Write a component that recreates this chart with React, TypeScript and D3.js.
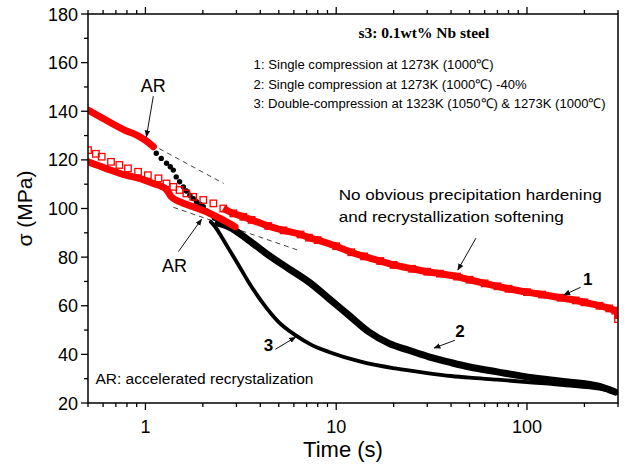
import React, { useLayoutEffect, useRef, useState } from 'react';
import * as d3 from 'd3';

const W = 628;
const H = 467;
const margin = { left: 88, right: 10, top: 14, bottom: 64 };

// curve 1: single compression at 1273K (red open squares)
const c1Time = [0.5, 0.55, 0.59, 0.66, 0.73, 0.81, 0.915, 1.03, 1.17, 1.29, 1.4, 1.51, 1.64, 1.78, 2.01, 2.27, 2.56, 2.89,
  3.26, 3.6, 4.4, 5.3, 6.5, 7.2, 8, 10, 12, 14, 17, 20, 25, 30, 35, 43, 50, 60, 70, 80,
  100, 120, 150, 180, 200, 240, 270, 290, 300, 300];
const c1Stress = [124, 122.5, 121.3, 119.2, 117.9, 116.5, 115.1, 113.7, 112.4, 110.3, 108.9, 107.6, 106.2, 104.8, 103.5, 102.1, 100, 98,
  96.6, 95.3, 92.8, 91, 89.3, 88, 87, 84.5, 82, 80.3, 78.4, 76.8, 75.2, 74, 73.2, 72, 70.7, 69.2, 68, 67,
  65.6, 64.6, 63.3, 62.2, 61.4, 60, 58.9, 58, 57.5, 54.5];

// curve 2: single compression -40%, red part before AR, black dots, black band
const c2RedTime = [0.5, 0.62, 0.79, 0.9, 1.01, 1.1];
const c2RedStress = [140.5, 136.4, 132, 130.2, 127.8, 125.4];
const c2DotTime = [1.14, 1.21, 1.29, 1.35, 1.4, 1.45, 1.51, 1.58, 1.64, 1.71, 1.78, 1.85, 1.93, 2.01, 2.1, 2.2, 2.3, 2.42];
const c2DotStress = [122.7, 120.6, 118.6, 117.2, 115.8, 113, 111, 108.9, 107.2, 105.5, 104.1, 102.8, 101.8, 100.7, 99, 97.5, 96, 94.5];
const c2BandTime = [2.4, 2.73, 3.47, 4.42, 5.63, 7.18, 9.15, 11.65, 14.8, 18.9, 24, 30.6, 40, 50, 70, 107, 160, 240, 290];
const c2BandStress = [94, 92.5, 87, 80.8, 75.3, 69.8, 63, 56.1, 49.3, 44.5, 41.7, 39, 36.6, 34.8, 32.8, 30.4, 28.8, 26.8, 24.5];

// curve 3: double compression, red part then black line
const c3RedTime = [0.5, 0.62, 0.79, 0.93, 1.1, 1.22, 1.29, 1.36, 1.51, 1.78, 2.09, 2.46, 2.95];
const c3RedStress = [119.2, 116.5, 113.7, 112.4, 110.3, 109, 107.8, 105, 102.8, 100.7, 98.6, 95.9, 92.5];
const c3Time = [2.2, 2.32, 2.5, 2.73, 3.08, 3.47, 4.08, 4.98, 6.11, 7.46, 9.15, 13.6, 20.4, 30, 40, 50, 70, 100, 160, 240, 300];
const c3Stress = [94.5, 92.5, 88.5, 83.5, 76.7, 69.8, 61.6, 53.4, 47.9, 43.8, 41, 36.9, 34.2, 32.3, 31.1, 30.4, 29.6, 28.6, 27.3, 25.9, 24.3];

// dashed guide lines [time, stress]
const guideUpper = [[0.5, 140.5], [2.57, 110.3]];
const guideLower = [[1.4, 100.5], [6.5, 82.5]];

const xMajor = [1, 10, 100];
const yTicks = [20, 40, 60, 80, 100, 120, 140, 160, 180];

const legendLines = [
  '1: Single compression at 1273K (1000\u2103)',
  '2: Single compression at 1273K (1000\u2103) -40%',
  '3: Double-compression at 1323K (1050\u2103) & 1273K (1000\u2103)',
];
const legendWidths = [240, 273, 352];

// annotations: label, text position [t, stress], arrow from/to [t, stress]
const arrows = [
  { label: 'AR', at: [1.1, 147.9], from: [1.1, 146.2], to: [1.012, 129.5], size: 18, bold: false },
  { label: 'AR', at: [1.42, 73.8], from: [1.49, 82.3], to: [1.97, 95.6], size: 18, bold: false },
  { label: '3', at: [4.42, 41.5], from: [4.8, 42.1], to: [6.13, 47.1], size: 17, bold: true },
  { label: '2', at: [44.5, 47.1], from: [41.9, 45.8], to: [32.6, 42.6], size: 17, bold: true },
  { label: '1', at: [208, 68.5], from: [191, 67.6], to: [156, 64.4], size: 17, bold: true },
  { label: '', at: [0, 0], from: [54, 87.8], to: [43.4, 74.7], size: 0, bold: false },
];

const sans = 'Arial, "Liberation Sans", Helvetica, sans-serif';

const zip = (t: number[], v: number[]) => t.map((d, i) => [d, v[i]] as [number, number]);

export default function App() {
  const x = d3.scaleLog().domain([0.5, 300]).range([margin.left, W - margin.right]);
  const y = d3.scaleLinear().domain([20, 180]).range([H - margin.bottom, margin.top]);
  const line = d3.line<[number, number]>().x((d) => x(d[0])).y((d) => y(d[1])).curve(d3.curveMonotoneX);
  const straight = d3.line<number[]>().x((d) => x(d[0])).y((d) => y(d[1]));

  const x0 = margin.left, x1 = W - margin.right, y0 = margin.top, y1 = H - margin.bottom;
  const xTicksAll = x.ticks();
  const yMinor = d3.range(30, 180, 20);
  const isMajor = (t: number) => xMajor.some((m) => Math.abs(m - t) < 1e-9);

  const c1 = zip(c1Time, c1Stress);
  const sq = 6.5;

  // legend font is condensed: measure and squeeze horizontally
  const legendRefs = useRef<(SVGTextElement | null)[]>([]);
  const [legendScale, setLegendScale] = useState<number[]>([1, 1, 1]);
  useLayoutEffect(() => {
    const s = legendRefs.current.map((el, i) => {
      if (!el) return 1;
      const w = el.getComputedTextLength();
      return w > 0 ? legendWidths[i] / w : 1;
    });
    setLegendScale(s);
  }, []);

  const lx = x(3.69);

  return (
    <svg width={W} height={H} style={{ position: 'absolute', left: 0, top: 0, background: '#fff' }}>
      <defs>
        <marker id="ah" viewBox="0 0 10 10" refX="9" refY="5" markerWidth="7" markerHeight="7" orient="auto">
          <path d="M0,1 L10,5 L0,9 Z" fill="#111" />
        </marker>
        <clipPath id="plot">
          <rect x={x0} y={y0} width={x1 - x0} height={y1 - y0} />
        </clipPath>
      </defs>

      <g clipPath="url(#plot)">
        {/* dashed guides */}
        <path d={straight(guideUpper) || ''} stroke="#444" strokeWidth={1} strokeDasharray="5,4" fill="none" />
        <path d={straight(guideLower) || ''} stroke="#444" strokeWidth={1} strokeDasharray="5,4" fill="none" />

        {/* curve 3 black */}
        <path d={line(zip(c3Time, c3Stress)) || ''} stroke="#000" strokeWidth={3.8} fill="none" strokeLinecap="round" />
        {/* curve 2 black band */}
        <path d={line(zip(c2BandTime, c2BandStress)) || ''} stroke="#000" strokeWidth={7} fill="none" strokeLinecap="round" />
        {zip(c2DotTime, c2DotStress).map((d, i) => (
          <circle key={i} cx={x(d[0])} cy={y(d[1])} r={2.7} fill="#000" />
        ))}

        {/* red initial parts of curves 2 and 3 */}
        <path d={line(zip(c2RedTime, c2RedStress)) || ''} stroke="#f00" strokeWidth={7} fill="none" strokeLinecap="round" />
        <path d={line(zip(c3RedTime, c3RedStress)) || ''} stroke="#f00" strokeWidth={7} fill="none" strokeLinecap="round" />

        {/* curve 1 red open squares */}
        <path d={line(c1.filter((d) => d[0] >= 2.5)) || ''} stroke="#f00" strokeWidth={7} fill="none" />
        {c1.map((d, i) => (
          <rect key={i} x={x(d[0]) - sq / 2} y={y(d[1]) - sq / 2} width={sq} height={sq}
            fill="none" stroke="#f00" strokeWidth={1.3} />
        ))}

        <path d={straight(guideUpper.filter((d) => d[0] < 1.1)) || ''} stroke="#222" strokeWidth={1} strokeDasharray="5,4" fill="none" />
      </g>

      {/* frame */}
      <rect x={x0} y={y0} width={x1 - x0} height={y1 - y0} fill="none" stroke="#000" strokeWidth={1.5} />

      {/* x ticks bottom and top */}
      {xTicksAll.map((t, i) => {
        const len = isMajor(t) ? 7 : 4;
        return (
          <g key={i}>
            <line x1={x(t)} x2={x(t)} y1={y1} y2={y1 + len} stroke="#000" strokeWidth={1.3} />
            <line x1={x(t)} x2={x(t)} y1={y0} y2={y0 - len} stroke="#000" strokeWidth={1.3} />
          </g>
        );
      })}
      {xMajor.map((t) => (
        <text key={t} x={x(t)} y={y1 + 30} textAnchor="middle" fontFamily={sans} fontSize={18}>{t}</text>
      ))}

      {/* y ticks */}
      {yTicks.map((v) => (
        <g key={v}>
          <line x1={x0} x2={x0 - 7} y1={y(v)} y2={y(v)} stroke="#000" strokeWidth={1.3} />
          <text x={x0 - 10} y={y(v) + 6.5} textAnchor="end" fontFamily={sans} fontSize={18}>{v}</text>
        </g>
      ))}
      {yMinor.map((v) => (
        <line key={v} x1={x0} x2={x0 - 4} y1={y(v)} y2={y(v)} stroke="#000" strokeWidth={1.3} />
      ))}

      {/* axis titles */}
      <text x={343} y={457} textAnchor="middle" fontFamily={sans} fontSize={22}>Time (s)</text>
      <text transform={`translate(32,${(y0 + y1) / 2}) rotate(-90)`} textAnchor="middle" fontFamily={sans} fontSize={21}>
        σ (MPa)
      </text>

      {/* title + legend */}
      <text x={x(28.8)} y={y(170.1)} textAnchor="middle" fontFamily='"Liberation Serif", "Times New Roman", serif'
        fontWeight="bold" fontSize={15.5}>s3: 0.1wt% Nb steel</text>
      {legendLines.map((s, i) => (
        <text key={i} ref={(el) => { legendRefs.current[i] = el; }}
          transform={`translate(${lx},${y(157.4 - i * 8.1)}) scale(${legendScale[i]},1)`}
          fontFamily={sans} fontSize={13.5}>{s}</text>
      ))}

      {/* notes */}
      <text x={x(10.3)} y={y(103.5)} fontFamily={sans} fontSize={15.5} textLength={263} lengthAdjust="spacingAndGlyphs">
        No obvious precipitation hardening
      </text>
      <text x={x(10.3)} y={y(94.4)} fontFamily={sans} fontSize={15.5} textLength={225} lengthAdjust="spacingAndGlyphs">
        and recrystallization softening
      </text>
      <text x={x(0.547)} y={y(27.7)} fontFamily={sans} fontSize={14} textLength={218} lengthAdjust="spacingAndGlyphs">
        AR: accelerated recrystalization
      </text>

      {/* arrows */}
      {arrows.map((a, i) => (
        <g key={i}>
          <line x1={x(a.from[0])} y1={y(a.from[1])} x2={x(a.to[0])} y2={y(a.to[1])} stroke="#111" strokeWidth={1}
            markerEnd="url(#ah)" />
          {a.label && (
            <text x={x(a.at[0])} y={y(a.at[1])} textAnchor="middle" fontFamily={sans} fontSize={a.size}
              fontWeight={a.bold ? 'bold' : 'normal'}>{a.label}</text>
          )}
        </g>
      ))}
    </svg>
  );
}
